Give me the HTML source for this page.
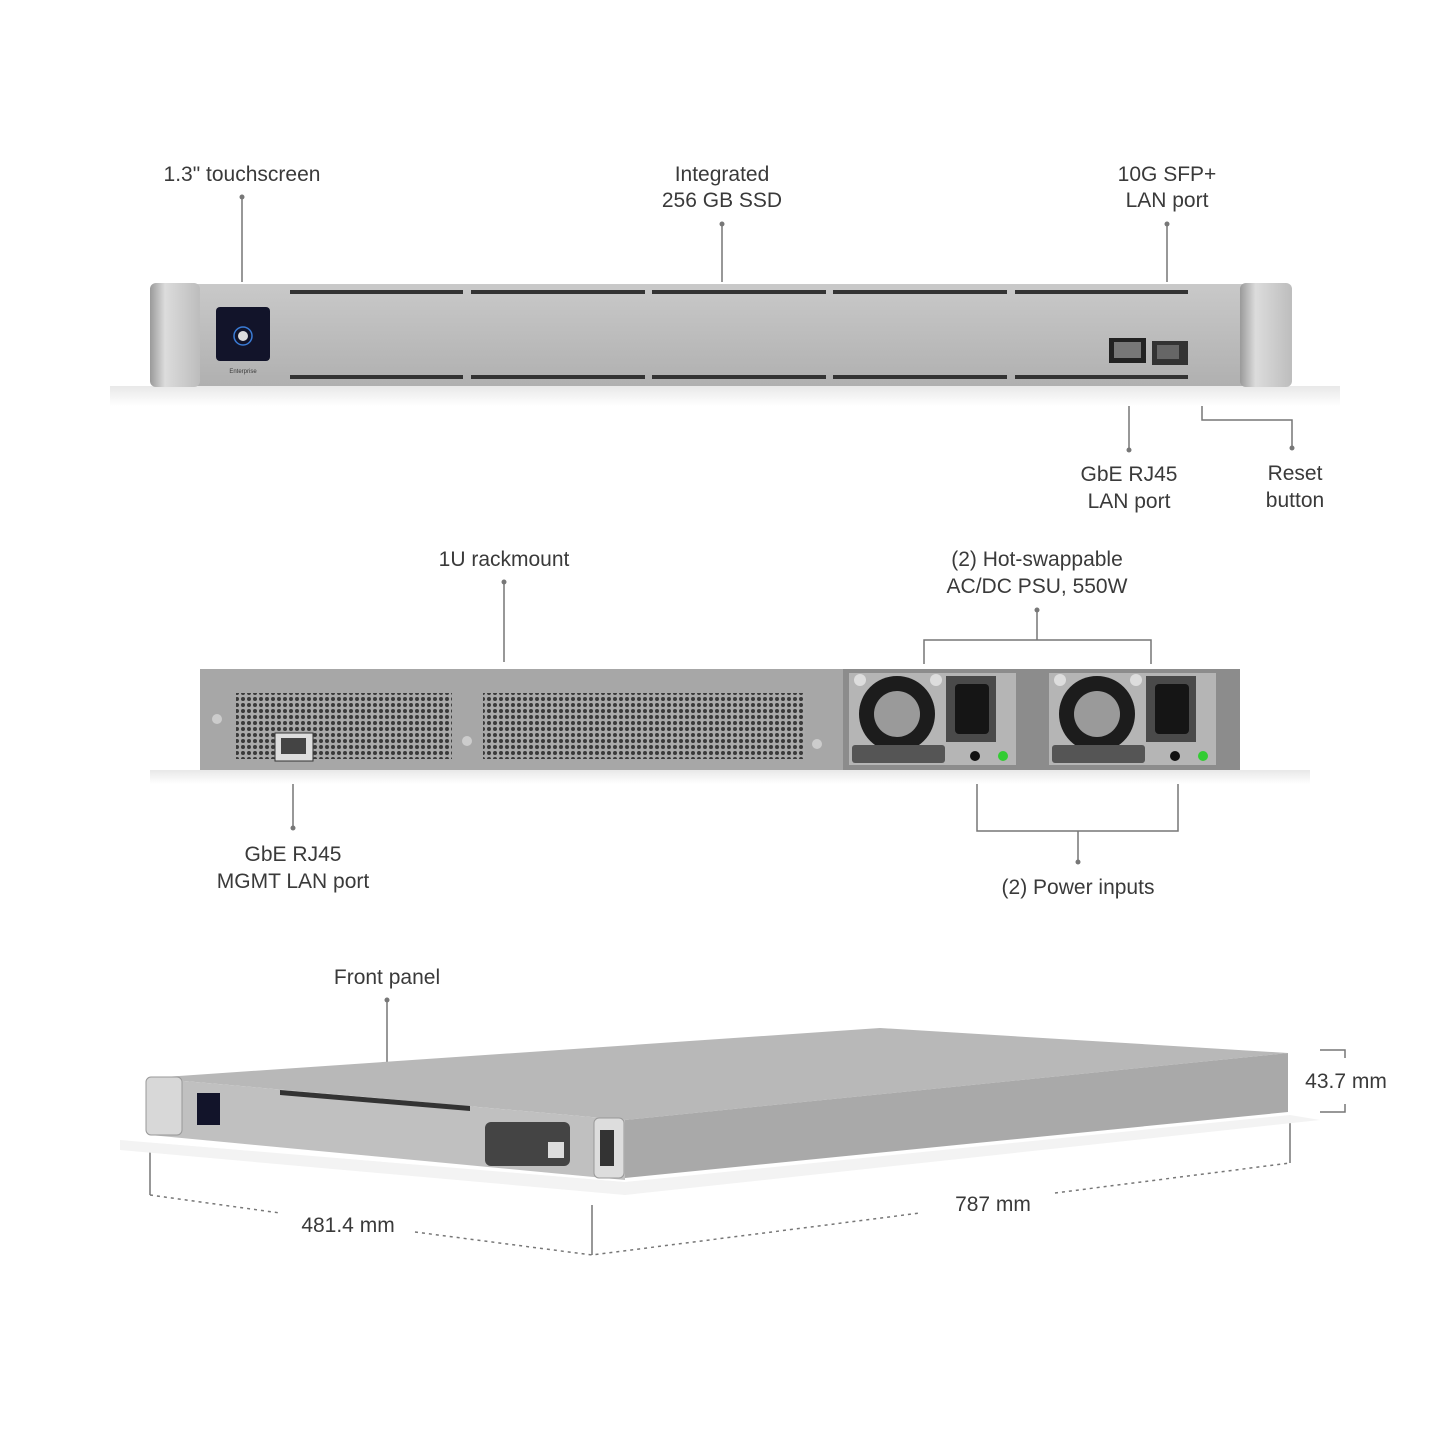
<!DOCTYPE html>
<html><head><meta charset="utf-8"><style>
html,body{margin:0;padding:0;background:#fff}
svg{display:block}
text{font-family:"Liberation Sans",sans-serif;font-size:21px;fill:#3a3a3a}
</style></head><body>
<svg width="1445" height="1445" viewBox="0 0 1445 1445">
<defs>
<linearGradient id="g1" x1="0" y1="0" x2="0" y2="1"><stop offset="0" stop-color="#c9c9c9"/><stop offset="1" stop-color="#b0b0b0"/></linearGradient>
<linearGradient id="ear" x1="0" y1="0" x2="1" y2="0"><stop offset="0" stop-color="#9a9a9a"/><stop offset=".3" stop-color="#dcdcdc"/><stop offset="1" stop-color="#bdbdbd"/></linearGradient>
<linearGradient id="sh" x1="0" y1="0" x2="0" y2="1"><stop offset="0" stop-color="#e8e8e8"/><stop offset="1" stop-color="#fff"/></linearGradient>
<pattern id="holes" width="6" height="6" patternUnits="userSpaceOnUse"><rect width="6" height="6" fill="#a9a9a9"/><circle cx="3" cy="3" r="2" fill="#3a3a3a"/></pattern>
</defs>
<g text-anchor="middle">
<text x="242" y="181">1.3" touchscreen</text>
<text x="722" y="181">Integrated</text><text x="722" y="207">256 GB SSD</text>
<text x="1167" y="181">10G SFP+</text><text x="1167" y="207">LAN port</text>
<text x="1129" y="481">GbE RJ45</text><text x="1129" y="508">LAN port</text>
<text x="1295" y="480">Reset</text><text x="1295" y="507">button</text>
<text x="504" y="566">1U rackmount</text>
<text x="1037" y="566">(2) Hot-swappable</text><text x="1037" y="593">AC/DC PSU, 550W</text>
<text x="293" y="861">GbE RJ45</text><text x="293" y="888">MGMT LAN port</text>
<text x="1078" y="894">(2) Power inputs</text>
<text x="387" y="984">Front panel</text>
<text x="348" y="1232">481.4 mm</text>
<text x="993" y="1211">787 mm</text>
<text x="1346" y="1088">43.7 mm</text>
</g>
<g stroke="#777" stroke-width="1.5" fill="none">
<path d="M242 197V282M722 224V282M1167 224V282M1129 398V448M1202 398V420H1292V448M504 582V662M924 664V640H1151V664M1037 640V610M293 780V828M977 784V831H1178V784M1078 831V862M387 1000V1088"/>
<path d="M150 1148V1195M592 1205V1255M1290 1118V1163M1320 1050H1345V1058M1320 1112H1345V1104"/>
<path stroke-dasharray="3,4" d="M150 1195L280 1213M415 1232L592 1255L920 1213M1055 1193L1290 1163"/>
</g>
<g fill="#777"><circle cx="242" cy="197" r="2.5"/><circle cx="722" cy="224" r="2.5"/><circle cx="1167" cy="224" r="2.5"/><circle cx="1129" cy="450" r="2.5"/><circle cx="1292" cy="448" r="2.5"/><circle cx="504" cy="582" r="2.5"/><circle cx="1037" cy="610" r="2.5"/><circle cx="293" cy="828" r="2.5"/><circle cx="1078" cy="862" r="2.5"/><circle cx="387" cy="1000" r="2.5"/></g>
<!-- top device -->
<rect x="110" y="386" width="1230" height="20" fill="url(#sh)"/>
<rect x="195" y="284" width="1050" height="102" fill="url(#g1)"/>
<rect x="150" y="283" width="50" height="104" rx="6" fill="url(#ear)"/>
<rect x="1240" y="283" width="52" height="104" rx="6" fill="url(#ear)"/>
<g fill="#333"><rect x="290" y="290" width="173" height="4"/><rect x="471" y="290" width="174" height="4"/><rect x="652" y="290" width="174" height="4"/><rect x="833" y="290" width="174" height="4"/><rect x="1015" y="290" width="173" height="4"/>
<rect x="290" y="375" width="173" height="4"/><rect x="471" y="375" width="174" height="4"/><rect x="652" y="375" width="174" height="4"/><rect x="833" y="375" width="174" height="4"/><rect x="1015" y="375" width="173" height="4"/></g>
<rect x="216" y="307" width="54" height="54" rx="4" fill="#12142a"/>
<circle cx="243" cy="336" r="9" fill="none" stroke="#3a7bd5" stroke-width="1.5"/><circle cx="243" cy="336" r="5" fill="#ddd"/>
<text x="243" y="373" text-anchor="middle" style="font-size:6px">Enterprise</text>
<rect x="1109" y="338" width="37" height="25" fill="#222"/><rect x="1114" y="342" width="27" height="16" fill="#777"/>
<rect x="1152" y="341" width="36" height="24" fill="#333"/><rect x="1157" y="345" width="22" height="14" fill="#666"/>
<!-- middle device -->
<rect x="150" y="770" width="1160" height="14" fill="url(#sh)"/>
<rect x="200" y="669" width="645" height="101" fill="#a7a7a7"/>
<rect x="843" y="669" width="397" height="101" fill="#8c8c8c"/>
<rect x="236" y="693" width="216" height="66" fill="url(#holes)"/>
<rect x="483" y="693" width="322" height="66" fill="url(#holes)"/>
<rect x="275" y="733" width="38" height="28" fill="#ddd" stroke="#333"/><rect x="281" y="738" width="25" height="16" fill="#444"/>
<circle cx="217" cy="719" r="5" fill="#ccc"/><circle cx="467" cy="741" r="5" fill="#ccc"/><circle cx="817" cy="744" r="5" fill="#ccc"/>
<g id="psu">
<rect x="849" y="673" width="167" height="92" fill="#b5b5b5"/>
<circle cx="897" cy="714" r="38" fill="#1c1c1c"/><circle cx="897" cy="714" r="23" fill="#9a9a9a"/>
<rect x="852" y="745" width="93" height="18" rx="3" fill="#555"/>
<rect x="946" y="676" width="50" height="66" fill="#4a4a4a"/><rect x="955" y="684" width="34" height="50" rx="4" fill="#151515"/>
<circle cx="975" cy="756" r="5" fill="#111"/><circle cx="1003" cy="756" r="5" fill="#3c3"/>
<circle cx="860" cy="680" r="6" fill="#ddd"/><circle cx="936" cy="680" r="6" fill="#ddd"/>
</g>
<use href="#psu" x="200"/>
<!-- bottom iso -->
<polygon points="120,1140 625,1182 1290,1115 1320,1120 625,1195 120,1150" fill="#f3f3f3"/>
<polygon points="150,1078 880,1028 1288,1053 625,1120" fill="#b8b8b8"/>
<polygon points="625,1120 1288,1053 1288,1112 625,1178" fill="#a9a9a9"/>
<polygon points="150,1078 625,1120 625,1180 150,1135" fill="#c0c0c0"/>
<rect x="146" y="1077" width="36" height="58" rx="5" fill="#d8d8d8" stroke="#999"/>
<rect x="197" y="1093" width="23" height="32" fill="#12142a"/>
<polygon points="280,1090 470,1106 470,1111 280,1095" fill="#333"/>
<rect x="485" y="1122" width="85" height="44" rx="6" fill="#444"/>
<rect x="548" y="1142" width="16" height="16" fill="#ddd"/>
<rect x="594" y="1118" width="30" height="60" rx="5" fill="#ddd" stroke="#999"/>
<rect x="600" y="1130" width="14" height="36" fill="#333"/>
</svg>
</body></html>
